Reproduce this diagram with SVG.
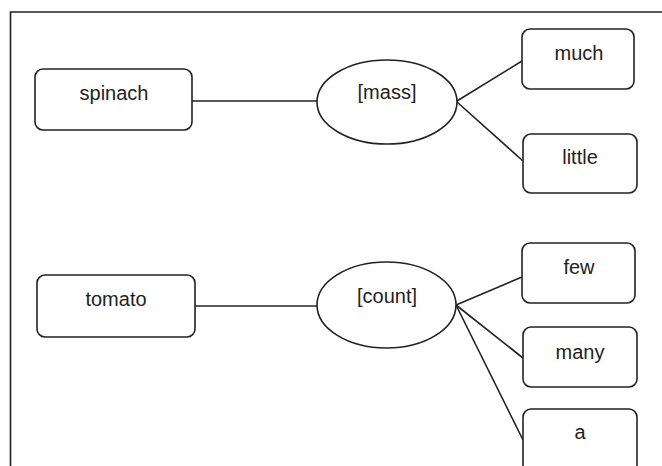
<svg xmlns="http://www.w3.org/2000/svg" width="662" height="466" viewBox="0 0 662 466">
<style>
.box{fill:#fff;stroke:#222;stroke-width:1.6}
.ell{fill:#fff;stroke:#222;stroke-width:1.6}
.lbl{font-family:"Liberation Sans",Arial,sans-serif;font-size:20px;fill:#222;text-anchor:middle}
.conn line{stroke:#222;stroke-width:1.6}
.frame{fill:none;stroke:#222;stroke-width:1.6}
</style>
<rect width="662" height="466" fill="#fff"/>
<path class="frame" d="M10.5,466 V12 H662"/>
<g class="conn" id="connectors">
<line x1="192" y1="101" x2="317" y2="101"/>
<line x1="457" y1="101" x2="522" y2="61"/>
<line x1="457" y1="102" x2="523" y2="161"/>
<line x1="195" y1="306" x2="317" y2="306"/>
<line x1="456" y1="305" x2="522" y2="277"/>
<line x1="456" y1="305" x2="523" y2="358"/>
<line x1="456" y1="305" x2="523" y2="440"/>
</g>
<g id="spinach"><rect class="box" x="35" y="69" width="157" height="61" rx="8"/><text class="lbl" x="114" y="100">spinach</text></g>
<g id="mass"><ellipse class="ell" cx="387" cy="102" rx="70" ry="42"/><text class="lbl" x="387" y="99">[mass]</text></g>
<g id="much"><rect class="box" x="522" y="29" width="112" height="60" rx="8"/><text class="lbl" x="579" y="60">much</text></g>
<g id="little"><rect class="box" x="523" y="134" width="114" height="59" rx="8"/><text class="lbl" x="580" y="164">little</text></g>
<g id="tomato"><rect class="box" x="37" y="275" width="158" height="62" rx="8"/><text class="lbl" x="116" y="306">tomato</text></g>
<g id="count"><ellipse class="ell" cx="386.5" cy="305" rx="69.5" ry="43"/><text class="lbl" x="387" y="303">[count]</text></g>
<g id="few"><rect class="box" x="522" y="243" width="113" height="60" rx="8"/><text class="lbl" x="579" y="274">few</text></g>
<g id="many"><rect class="box" x="523" y="327" width="114" height="60" rx="8"/><text class="lbl" x="580" y="359">many</text></g>
<g id="a"><rect class="box" x="523" y="409" width="114" height="70" rx="8"/><text class="lbl" x="580" y="439">a</text></g>
</svg>
